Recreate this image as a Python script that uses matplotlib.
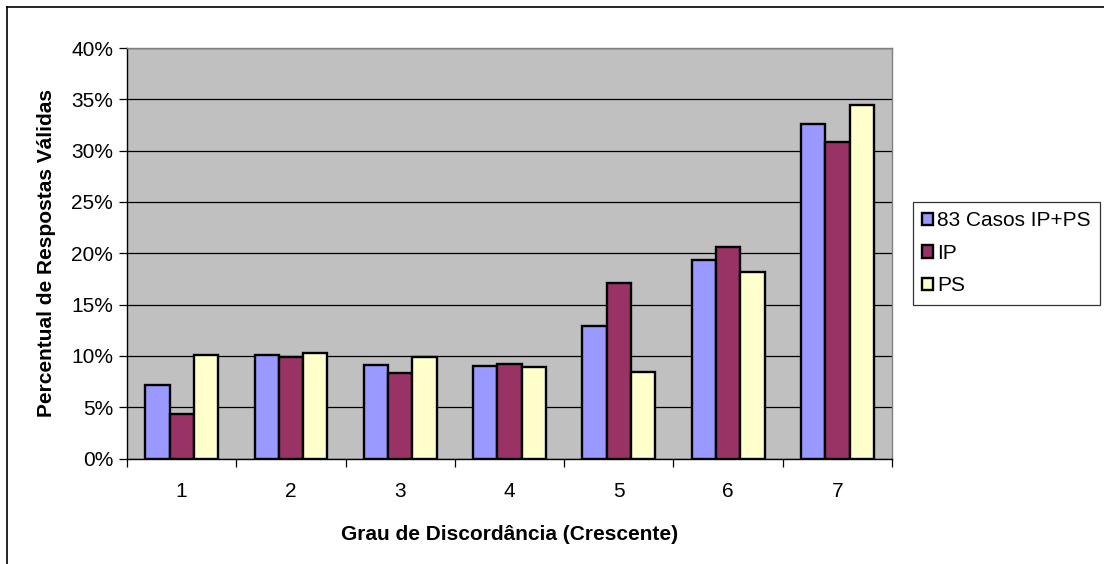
import numpy as np
import matplotlib.pyplot as plt
from matplotlib.lines import Line2D
from matplotlib.patches import Patch

plt.rcParams['font.family'] = ['Liberation Sans', 'DejaVu Sans']

# Percentual de respostas por grau de discordância
graus = ['1', '2', '3', '4', '5', '6', '7']
casos_ip_ps = [7.2, 10.1, 9.1, 9.05, 12.9, 19.3, 32.6]
ip = [4.3, 9.9, 8.3, 9.25, 17.1, 20.6, 30.8]
ps = [10.1, 10.25, 9.9, 8.9, 8.4, 18.2, 34.4]

series = [
    ('83 Casos IP+PS', casos_ip_ps, '#9999FF'),
    ('IP', ip, '#993366'),
    ('PS', ps, '#FFFFCC'),
]

W, H = 1104, 564
fig = plt.figure(figsize=(W / 100, H / 100), dpi=100)
ax = fig.add_axes([127 / W, 1 - 458.5 / H, (892 - 127) / W, (458.5 - 48) / H])
ax.set_facecolor('#C0C0C0')

x = np.arange(len(graus))
width = 1 / 4.5
for i, (label, vals, color) in enumerate(series):
    ax.bar(x + (i - 1) * width, vals, width, color=color, edgecolor='black',
           linewidth=1.7, label=label, zorder=3)

ax.set_xlim(-0.5, len(graus) - 0.5)
ax.set_ylim(0, 40)
ax.set_yticks(np.arange(0, 41, 5))
ax.set_yticklabels([f'{v}%' for v in range(0, 41, 5)], fontsize=15)
ax.yaxis.grid(True, color='black', linewidth=0.9, zorder=0)
ax.set_axisbelow(True)

# ticks between groups, labels centered under each group
ax.set_xticks(np.arange(-0.5, len(graus), 1.0))
ax.set_xticklabels([])
ax.set_xticks(x, minor=True)
ax.set_xticklabels(graus, minor=True, fontsize=15)
ax.tick_params(axis='x', which='minor', length=0, pad=17)
ax.tick_params(axis='x', which='major', length=6, direction='out', width=0.9)
ax.tick_params(axis='y', length=6, direction='out', width=0.9, pad=4)

for side in ['top', 'right']:
    ax.spines[side].set_color('#808080')
    ax.spines[side].set_linewidth(1.0)
for side in ['left', 'bottom']:
    ax.spines[side].set_linewidth(1.0)

ax.set_xlabel('Grau de Discordância (Crescente)', fontsize=15, fontweight='bold', labelpad=17)
ax.set_ylabel('Percentual de Respostas Válidas', fontsize=15, fontweight='bold', labelpad=11)

handles = [Patch(facecolor=c, edgecolor='black', linewidth=1.7) for _, _, c in series]
leg = fig.legend(handles, [s[0] for s in series], loc='upper left',
                 bbox_to_anchor=(913 / W, 1 - 202 / H), fontsize=15, frameon=True,
                 fancybox=False, edgecolor='black', handlelength=0.5, handleheight=0.55,
                 handletextpad=0.2, borderpad=0.45, labelspacing=0.65, borderaxespad=0)
leg.get_frame().set_linewidth(0.9)

# chart area border (top and left edges)
fig.add_artist(Line2D([7 / W, 1], [1 - 7 / H, 1 - 7 / H], color='black', linewidth=1.2))
fig.add_artist(Line2D([7 / W, 7 / W], [0, 1 - 7 / H], color='black', linewidth=1.2))

fig.savefig('out.png', dpi=100)
